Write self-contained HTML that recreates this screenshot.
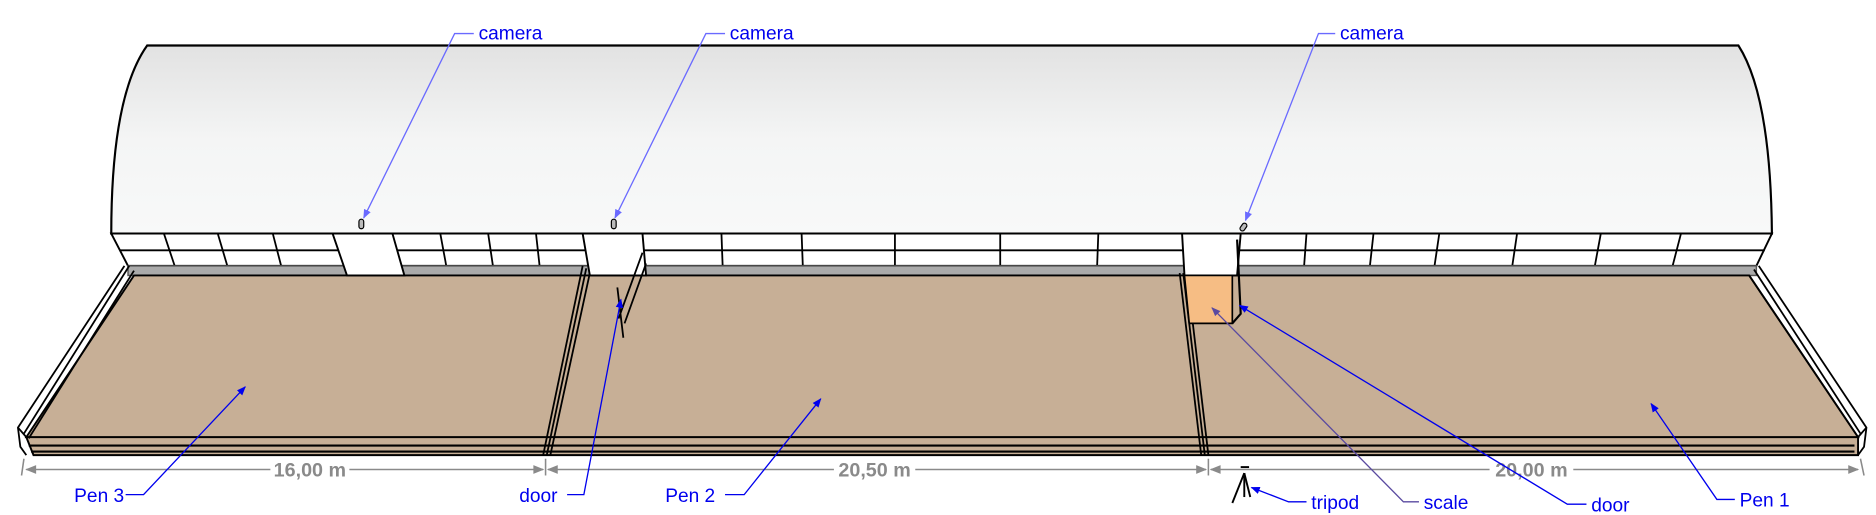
<!DOCTYPE html>
<html><head><meta charset="utf-8"><style>
html,body{margin:0;padding:0;background:#fff;width:1876px;height:515px;overflow:hidden}
svg{display:block}
text{font-family:"Liberation Sans",Arial,sans-serif}
.lbl{fill:#0000ee;font-size:16px}
.dim{fill:#8a8a8a;font-size:16.5px;font-weight:bold}
</style></head><body>
<svg width="1876" height="515" viewBox="0 0 1568 430" preserveAspectRatio="none">
<defs>
<linearGradient id="roofg" x1="0" y1="0" x2="0" y2="1"><stop offset="0" stop-color="#e2e2e2"/><stop offset="0.5" stop-color="#f4f5f5"/><stop offset="1" stop-color="#f8f9f9"/></linearGradient>
<marker id="ab" viewBox="0 0 10 10" refX="9" refY="5" markerWidth="7" markerHeight="7" orient="auto"><path d="M0,1L10,5L0,9z" fill="#0000ee"/></marker>
<marker id="al" viewBox="0 0 10 10" refX="9" refY="5" markerWidth="7" markerHeight="7" orient="auto"><path d="M0,1L10,5L0,9z" fill="#6a6aff"/></marker>
<marker id="ap" viewBox="0 0 10 10" refX="9" refY="5" markerWidth="7" markerHeight="7" orient="auto"><path d="M0,1L10,5L0,9z" fill="#5a4aa0"/></marker>
<marker id="ag" viewBox="0 0 10 10" refX="9" refY="5" markerWidth="9" markerHeight="7" orient="auto"><path d="M0,1L10,5L0,9z" fill="#8a8a8a"/></marker>
</defs>
<path d="M123,38 L1453,38 Q1480,80 1481,195 L93,195 Q93,80 123,38Z" fill="url(#roofg)" stroke="#000" stroke-width="1.8"/>
<path d="M93,195 L1481,195 L1468,222 L107,222Z" fill="#fff" stroke="#000" stroke-width="1.6"/>
<line x1="100" y1="209" x2="1475" y2="209" stroke="#000" stroke-width="1.5"/>
<g stroke="#000" stroke-width="1.5">
<line x1="137" y1="195" x2="146" y2="222"/><line x1="182" y1="195" x2="190" y2="222"/><line x1="228" y1="195" x2="235" y2="222"/>
<line x1="368" y1="195" x2="373" y2="222"/><line x1="408" y1="195" x2="412" y2="222"/><line x1="448" y1="195" x2="451" y2="222"/>
<line x1="603" y1="195" x2="604" y2="222"/><line x1="670" y1="195" x2="671" y2="222"/><line x1="748" y1="195" x2="748" y2="222"/>
<line x1="836" y1="195" x2="836" y2="222"/><line x1="918" y1="195" x2="917" y2="222"/>
<line x1="1092" y1="195" x2="1090" y2="222"/><line x1="1148" y1="195" x2="1145" y2="222"/><line x1="1203" y1="195" x2="1199" y2="222"/>
<line x1="1268" y1="195" x2="1264" y2="222"/><line x1="1338" y1="195" x2="1333" y2="222"/><line x1="1405" y1="195" x2="1398" y2="222"/>
</g>
<rect x="107" y="222" width="1361" height="8" fill="#aaaaaa" stroke="#555" stroke-width="1.2"/>
<path d="M112,230 L1462,230 L1553,365 L22,365Z" fill="#c7af96" stroke="#000" stroke-width="1.6"/>
<path d="M22,365 L1553,365 L1553,380 L28,380Z" fill="#c7af96" stroke="#000" stroke-width="1.6"/>
<g stroke="#000" stroke-width="1.8" fill="none">
<line x1="24" y1="372" x2="1550" y2="372"/><line x1="26" y1="377" x2="1550" y2="377"/>
</g>
<g stroke="#000" stroke-width="1.5" fill="none">
<path d="M104,222 L15,357 L17,373 L22,380"/><line x1="108" y1="222" x2="20" y2="362"/><line x1="112" y1="226" x2="24" y2="366"/><line x1="15" y1="357" x2="22" y2="365"/>
</g>
<g stroke="#000" stroke-width="1.5" fill="none">
<path d="M1470,222 L1560,357 L1558,373 L1553,380"/><line x1="1466" y1="225" x2="1555" y2="362"/><line x1="1462" y1="230" x2="1553" y2="365"/><line x1="1560" y1="357" x2="1553" y2="365"/>
</g>
<g stroke="#000" stroke-width="1.5" fill="none">
<line x1="487" y1="222" x2="454" y2="380"/><line x1="490" y1="224" x2="457" y2="380"/><line x1="493" y1="228" x2="460" y2="380"/>
</g>
<g stroke="#000" stroke-width="1.5" fill="none">
<line x1="986" y1="228" x2="1004" y2="380"/><line x1="989" y1="228" x2="1007" y2="380"/><line x1="992" y1="228" x2="1010" y2="380"/>
</g>
<path d="M278,195 L328,195 L338,230 L290,230Z" fill="#fff" stroke="#000" stroke-width="1.6"/>
<path d="M487,195 L537,195 L540,230 L493,230Z" fill="#fff" stroke="#000" stroke-width="1.6"/>
<path d="M537,211 L517,266 M540,220 L522,270 M516,240 L521,282" stroke="#000" stroke-width="1.5" fill="none"/>
<path d="M988,195 L1037,195 L1034,230 L990,230Z" fill="#fff" stroke="#000" stroke-width="1.6"/>
<path d="M990,230 L1030,230 L1030,270 L994,270Z" fill="#f6bd84" stroke="#000" stroke-width="1.4"/>
<path d="M1034,200 L1037,262 L1030,270" stroke="#000" stroke-width="1.8" fill="none"/>
<rect x="300" y="183" width="4" height="8" rx="2" fill="#bbb" stroke="#000"/>
<rect x="511" y="183" width="4" height="8" rx="2" fill="#bbb" stroke="#000"/>
<rect x="1037" y="186" width="4" height="7" rx="2" fill="#bbb" stroke="#000" transform="rotate(35 1039 190)"/>
<g stroke="#000" stroke-width="1.6" fill="none">
<line x1="1040" y1="395" x2="1030" y2="420"/><line x1="1040" y1="395" x2="1045" y2="415"/><line x1="1040" y1="395" x2="1040" y2="415"/><line x1="1037" y1="390" x2="1044" y2="390"/>
</g>
<g stroke="#8a8a8a" stroke-width="1.3">
<line x1="20" y1="383" x2="18" y2="397"/><line x1="456" y1="383" x2="456" y2="397"/><line x1="1010" y1="383" x2="1010" y2="397"/><line x1="1555" y1="383" x2="1558" y2="397"/>
<line x1="226" y1="392" x2="22" y2="392" marker-end="url(#ag)"/><line x1="292" y1="392" x2="454" y2="392" marker-end="url(#ag)"/>
<line x1="697" y1="392" x2="458" y2="392" marker-end="url(#ag)"/><line x1="765" y1="392" x2="1008" y2="392" marker-end="url(#ag)"/>
<line x1="1245" y1="392" x2="1012" y2="392" marker-end="url(#ag)"/><line x1="1315" y1="392" x2="1553" y2="392" marker-end="url(#ag)"/>
</g>
<text class="dim" x="259" y="398" text-anchor="middle">16,00 m</text>
<text class="dim" x="731" y="398" text-anchor="middle">20,50 m</text>
<text class="dim" x="1280" y="398" text-anchor="middle">20,00 m</text>
<g fill="none" stroke-width="1.1">
<path d="M396,28 L380,28 L304,182" stroke="#6a6aff" marker-end="url(#al)"/>
<path d="M606,28 L590,28 L514,182" stroke="#6a6aff" marker-end="url(#al)"/>
<path d="M1116,28 L1102,28 L1041,184" stroke="#6a6aff" marker-end="url(#al)"/>
<path d="M105,413 L120,413 L205,323" stroke="#0000ee" marker-end="url(#ab)"/>
<path d="M474,413 L488,413 L519,250" stroke="#0000ee" marker-end="url(#ab)"/>
<path d="M606,413 L622,413 L686,333" stroke="#0000ee" marker-end="url(#ab)"/>
<path d="M1092,419 L1077,419 L1046,407" stroke="#0000ee" marker-end="url(#ab)"/>
<path d="M1186,419 L1173,419 L1013,257" stroke="#5a4aa0" marker-end="url(#ap)"/>
<path d="M1326,421 L1310,421 L1036,255" stroke="#0000ee" marker-end="url(#ab)"/>
<path d="M1450,417 L1435,417 L1380,337" stroke="#0000ee" marker-end="url(#ab)"/>
</g>
<text class="lbl" x="400" y="33">camera</text>
<text class="lbl" x="610" y="33">camera</text>
<text class="lbl" x="1120" y="33">camera</text>
<text class="lbl" x="62" y="419">Pen 3</text>
<text class="lbl" x="434" y="419">door</text>
<text class="lbl" x="556" y="419">Pen 2</text>
<text class="lbl" x="1096" y="425">tripod</text>
<text class="lbl" x="1190" y="425">scale</text>
<text class="lbl" x="1330" y="427">door</text>
<text class="lbl" x="1454" y="423">Pen 1</text>
</svg>
</body></html>
